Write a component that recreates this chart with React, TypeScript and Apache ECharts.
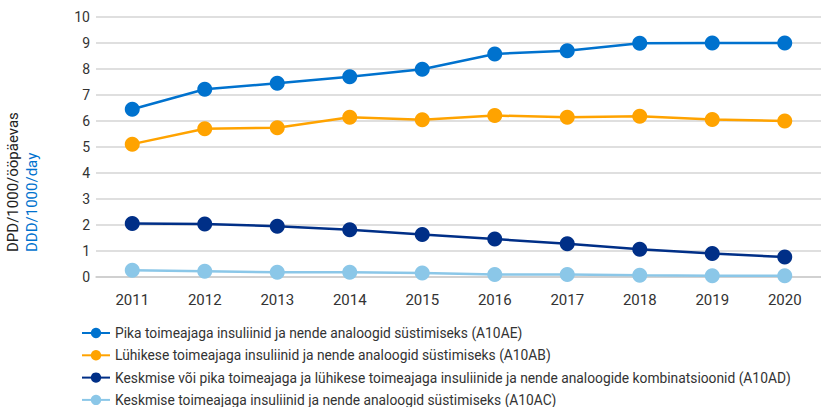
import React, { useEffect, useRef } from "react";
import * as echarts from "echarts";

const years = ["2011", "2012", "2013", "2014", "2015", "2016", "2017", "2018", "2019", "2020"];
const pika = [6.45, 7.22, 7.45, 7.7, 7.99, 8.58, 8.7, 8.99, 9.0, 9.0];
const luhikese = [5.11, 5.7, 5.74, 6.14, 6.05, 6.21, 6.14, 6.18, 6.06, 6.0];
const kombinatsioonid = [2.06, 2.04, 1.95, 1.82, 1.63, 1.46, 1.28, 1.07, 0.9, 0.77];
const keskmise = [0.26, 0.22, 0.18, 0.18, 0.15, 0.1, 0.1, 0.07, 0.05, 0.05];

const seriesNames = [
  "Pika toimeajaga insuliinid ja nende analoogid süstimiseks (A10AE)",
  "Lühikese toimeajaga insuliinid ja nende analoogid süstimiseks (A10AB)",
  "Keskmise või pika toimeajaga ja lühikese toimeajaga insuliinide ja nende analoogide kombinatsioonid (A10AD)",
  "Keskmise toimeajaga insuliinid ja nende analoogid süstimiseks (A10AC)",
];
const seriesColors = ["#0072CE", "#FFA300", "#002F87", "#8BC7E8"];
const yTitleEt = "DPD/1000/ööpäevas";
const yTitleEn = "DDD/1000/day";

const FONT = "Roboto, 'Noto Sans', sans-serif";

export default function App() {
  const ref = useRef<HTMLDivElement>(null);
  useEffect(() => {
    if (!ref.current) return;
    const chart = echarts.init(ref.current, null, { renderer: "svg" });
    const dataSets = [pika, luhikese, kombinatsioonid, keskmise];
    chart.setOption({
      animation: false,
      backgroundColor: "#ffffff",
      textStyle: { fontFamily: FONT },
      grid: { left: 96, top: 17, width: 727, height: 260, containLabel: false },
      legend: {
        orient: "vertical",
        left: 81,
        top: 326,
        padding: 0,
        height: 120,
        itemWidth: 28,
        itemHeight: 13,
        itemGap: 8.3,
        textStyle: { fontFamily: FONT, fontSize: 13.8, lineHeight: 14, color: "#333333" },
        data: seriesNames,
      },
      xAxis: {
        type: "category",
        data: years,
        boundaryGap: true,
        axisLine: { show: true, lineStyle: { color: "#cccccc", width: 1.5 } },
        axisTick: { show: false },
        axisLabel: { color: "#333333", fontSize: 15, margin: 15, fontFamily: FONT },
      },
      yAxis: {
        type: "value",
        min: 0,
        max: 10,
        interval: 1,
        axisLine: { show: false },
        axisTick: { show: false },
        axisLabel: { color: "#333333", fontSize: 14, margin: 6, fontFamily: FONT },
        splitLine: { lineStyle: { color: "#d4d4d4", width: 1.5 } },
      },
      graphic: [
        {
          type: "text",
          x: 13,
          y: 252,
          rotation: Math.PI / 2,
          style: {
            text: yTitleEt,
            fill: "#222222",
            font: `15px ${FONT}`,
            align: "left",
            verticalAlign: "middle",
          },
        },
        {
          type: "text",
          x: 32,
          y: 252,
          rotation: Math.PI / 2,
          style: {
            text: yTitleEn,
            fill: "#0072CE",
            font: `15px ${FONT}`,
            align: "left",
            verticalAlign: "middle",
          },
        },
      ],
      series: seriesNames.map((name, i) => ({
        name,
        type: "line",
        data: dataSets[i],
        color: seriesColors[i],
        symbol: "circle",
        symbolSize: 15,
        lineStyle: { width: 2.5, color: seriesColors[i] },
        itemStyle: { color: seriesColors[i] },
        z: 10 - i,
      })),
    });
    return () => chart.dispose();
  }, []);
  return (
    <div
      ref={ref}
      style={{ position: "fixed", left: 0, top: 0, width: 821, height: 407 }}
    />
  );
}
